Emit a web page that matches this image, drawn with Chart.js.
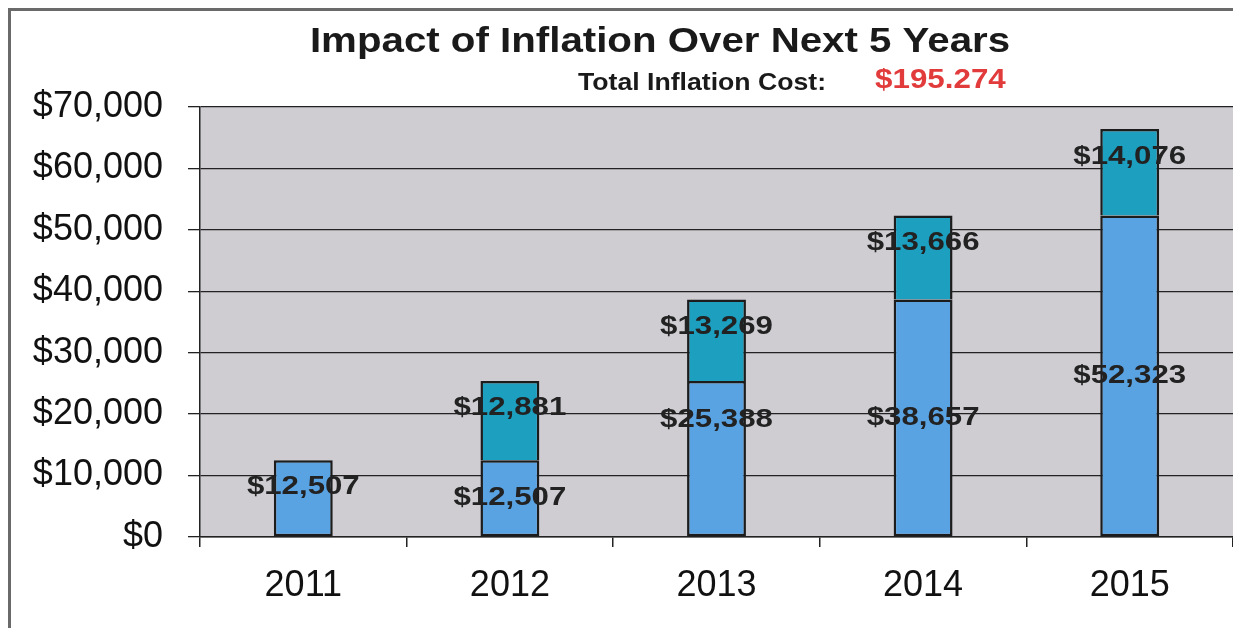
<!DOCTYPE html>
<html><head><meta charset="utf-8">
<script src="https://cdn.jsdelivr.net/npm/chart.js@4/dist/chart.umd.min.js"></script>
<style>html,body{margin:0;padding:0;background:#fff;overflow:hidden}#wrap{width:1233px;height:628px;position:relative}</style>
</head><body><div id="wrap"><canvas id="c" width="1233" height="628"></canvas></div>
<script>
const categories = ['2011', '2012', '2013', '2014', '2015'];
const baseCost = [12507, 12507, 25388, 38657, 52323];
const inflationIncrease = [null, 12881, 13269, 13666, 14076];
const yMin = 0, yMax = 70000, yStep = 10000;
const chartTitle = 'Impact of Inflation Over Next 5 Years';
const totalLabel = 'Total Inflation Cost:';
const totalValue = '$195.274';

const FONT = '"Liberation Sans", Arial, sans-serif';
const money = v => '$' + Number(v).toLocaleString('en-US');

function stretchText(ctx, text, x, y, sx, align) {
  ctx.save();
  ctx.translate(x, y);
  ctx.scale(sx, 1);
  ctx.textAlign = align;
  ctx.fillText(text, 0, 0);
  ctx.restore();
}

const decor = {
  id: 'decor',
  beforeDraw(chart) {
    const {ctx, chartArea: a} = chart;
    ctx.save();
    ctx.fillStyle = '#cfcdd2';
    ctx.fillRect(a.left, a.top, a.right - a.left, a.bottom - a.top);
    ctx.restore();
  },
  afterDraw(chart) {
    const ctx = chart.ctx;
    ctx.save();
    ctx.strokeStyle = '#6a6a6a';
    ctx.lineWidth = 3;
    ctx.beginPath();
    ctx.moveTo(9.5, 628); ctx.lineTo(9.5, 9.5); ctx.lineTo(1233, 9.5);
    ctx.stroke();
    ctx.fillStyle = '#1a1a1a';
    ctx.textBaseline = 'middle';
    ctx.font = 'bold 35px ' + FONT;
    stretchText(ctx, chartTitle, 660, 42, 1.15, 'center');
    ctx.font = 'bold 24px ' + FONT;
    stretchText(ctx, totalLabel, 578, 83, 1.11, 'left');
    ctx.fillStyle = '#e23b3b';
    ctx.font = 'bold 28px ' + FONT;
    stretchText(ctx, totalValue, 875, 80, 1.12, 'left');
    ctx.restore();
  }
};

const valueLabels = {
  id: 'valueLabels',
  afterDatasetsDraw(chart, args, opts) {
    const ctx = chart.ctx;
    ctx.save();
    ctx.font = 'bold 26px ' + FONT;
    ctx.fillStyle = '#222';
    ctx.textBaseline = 'middle';
    chart.data.datasets.forEach((ds, di) => {
      const meta = chart.getDatasetMeta(di);
      meta.data.forEach((el, i) => {
        const v = ds.data[i];
        if (v == null) return;
        const nudge = (opts.nudge[di] || [])[i] || 0;
        stretchText(ctx, money(v), el.x, (el.y + el.base) / 2 + nudge, 1.2, 'center');
      });
    });
    ctx.restore();
  }
};

new Chart(document.getElementById('c'), {
  type: 'bar',
  data: {
    labels: categories,
    datasets: [
      { label: 'Base', data: baseCost, backgroundColor: '#5aa3e3', borderColor: '#1c1c1c', borderWidth: 2.5, borderSkipped: false, barPercentage: 0.285, categoryPercentage: 1 },
      { label: 'Inflation', data: inflationIncrease, backgroundColor: '#1d9fc0', borderColor: '#1c1c1c', borderWidth: 2.5, borderSkipped: 'bottom', barPercentage: 0.285, categoryPercentage: 1 }
    ]
  },
  options: {
    responsive: false,
    animation: false,
    devicePixelRatio: 1,
    layout: { padding: { top: 107, left: 0, right: 0, bottom: 0 } },
    plugins: {
      legend: { display: false },
      tooltip: { enabled: false },
      valueLabels: { nudge: [[-11, 0, -39, 0, 0], [0, -13, -13, -15, -16]] }
    },
    scales: {
      x: {
        stacked: true,
        offset: true,
        afterFit(s) { s.height = 91; },
        grid: { drawOnChartArea: false, drawTicks: true, tickLength: 10, color: '#222', lineWidth: 1.5, offset: true },
        border: { display: true, color: '#222', width: 1.5 },
        ticks: { font: { family: FONT, size: 36 }, color: '#111', padding: 17 }
      },
      y: {
        stacked: true,
        min: yMin, max: yMax,
        afterFit(s) { s.width = 200; },
        ticks: { stepSize: yStep, font: { family: FONT, size: 36 }, color: '#111', padding: 25, callback: v => money(v) },
        grid: { color: '#222', lineWidth: 1.3, tickLength: 12, drawTicks: true },
        border: { display: true, color: '#222', width: 1.5 }
      }
    }
  },
  plugins: [decor, valueLabels]
});
</script></body></html>
